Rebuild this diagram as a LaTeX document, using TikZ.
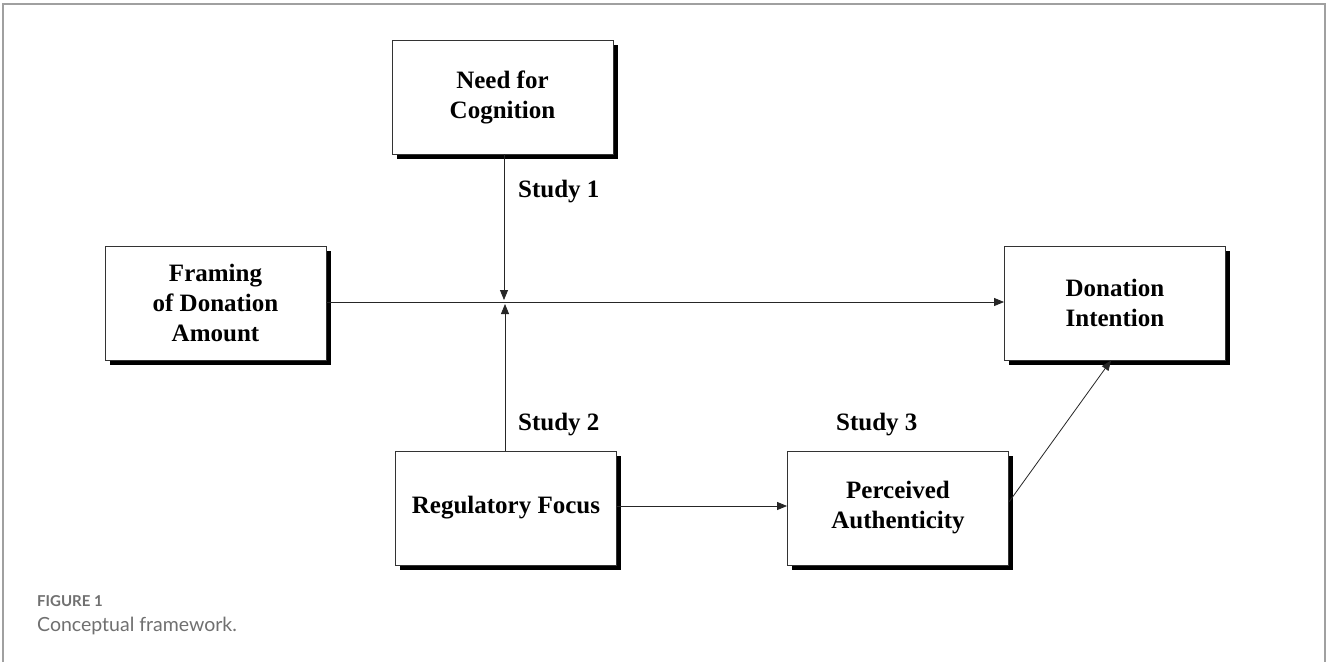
\documentclass[tikz,border=0pt]{standalone}
\usepackage{fontspec}
\setmainfont{Liberation Serif}
\newfontfamily\capfont{Lato}
\usetikzlibrary{arrows.meta,shadows}
\definecolor{capgray}{HTML}{707070}
\definecolor{framegray}{HTML}{A0A0A0}
\begin{document}
\begin{tikzpicture}[x=1pt,y=-1pt,
  box/.style={draw=black!80, line width=0.9pt, fill=white,
    minimum width=221pt, minimum height=114pt, inner sep=0pt,
    align=center, font=\fontsize{25}{30}\selectfont\bfseries,
    drop shadow={shadow xshift=4.5pt, shadow yshift=-4.5pt, fill=black, opacity=1}},
  lab/.style={anchor=west, inner sep=0pt, font=\fontsize{25}{30}\selectfont\bfseries},
  conn/.style={draw=black!85, line width=0.8pt},
  arr/.style={conn, -{Triangle[length=10pt,width=8pt]}}]
\useasboundingbox (0,0) rectangle (1328,662);
\fill[white] (0,0) rectangle (1328,662);
\draw[framegray, line width=1.5pt] (3,662) -- (3,4) -- (1325,4) -- (1325,662);

\node[box] (need) at (502.5,97) {Need for\\Cognition};
\node[box] (fram) at (215.5,303) {Framing\\of Donation\\Amount};
\node[box] (don) at (1115,303) {Donation\\Intention};
\node[box] (reg) at (506,508) {Regulatory Focus};
\node[box] (perc) at (898,508) {Perceived\\Authenticity};

\coordinate (jdown) at (504,300);
\coordinate (jup) at (505,304);

\draw[arr] (fram.east |- 0,302) -- (don.west |- 0,302);
\draw[arr] (need.south -| jdown) -- (jdown);
\draw[arr] (reg.north -| jup) -- (jup);
\draw[arr] (reg.east |- 0,506) -- (perc.west |- 0,506);
\draw[arr] (perc.east |- 0,502) -- (don.south -| 1111,0);

\node[lab] (s1) at (518,192) {Study 1};
\node[lab] (s2) at (518,425) {Study 2};
\node[lab] (s3) at (836,425) {Study 3};

\node[anchor=west, inner sep=0pt, text=capgray, font=\capfont\bfseries\fontsize{15}{18}\selectfont] (fig) at (37,601) {FIGURE 1};
\node[anchor=west, inner sep=0pt, text=capgray, font=\capfont\fontsize{19.5}{23}\selectfont] (cap) at (37,626) {Conceptual framework.};
\end{tikzpicture}
\end{document}
